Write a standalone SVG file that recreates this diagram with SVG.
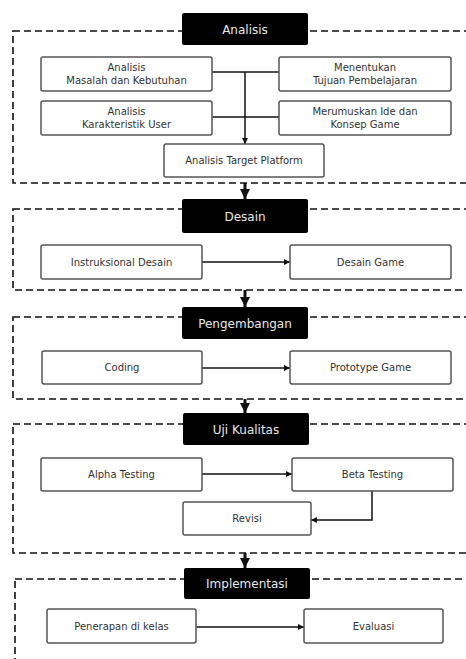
<svg xmlns="http://www.w3.org/2000/svg" width="466" height="659" viewBox="0 0 466 659">
<defs>
<style>
.frame{fill:none;stroke:#111;stroke-width:1.6;stroke-dasharray:7,4}
.hdr{fill:#000}
.ht{fill:#e8e8e8;font-family:"DejaVu Sans",sans-serif;font-size:12px;text-anchor:middle}
.box{fill:#fff;stroke:#555;stroke-width:1.5}
.bt{fill:#333;font-family:"DejaVu Sans",sans-serif;font-size:10px;text-anchor:middle}
.ln{fill:none;stroke:#111;stroke-width:1.5}
.thick{fill:none;stroke:#111;stroke-width:3}
</style>
<marker id="ah" viewBox="0 0 10 10" refX="10" refY="5" markerWidth="6" markerHeight="6" markerUnits="userSpaceOnUse" orient="auto"><path d="M0,0 L10,5 L0,10 z" fill="#111"/></marker>
<marker id="ah2" viewBox="0 0 10 10" refX="10" refY="5" markerWidth="3.5" markerHeight="3.5" orient="auto"><path d="M0,0 L10,5 L0,10 z" fill="#111"/></marker>
</defs>
<rect width="466" height="659" fill="#fff"/>

<g id="frames">
<rect class="frame" x="13" y="31" width="470" height="152"/>
<rect class="frame" x="13" y="209" width="470" height="81"/>
<rect class="frame" x="13" y="317" width="470" height="82"/>
<rect class="frame" x="13" y="424" width="470" height="129"/>
<rect class="frame" x="15" y="579" width="470" height="90"/>
</g>

<g id="connectors">
<line class="ln" x1="212" y1="72" x2="279" y2="72"/>
<line class="ln" x1="212" y1="117" x2="279" y2="117"/>
<line class="ln" x1="245" y1="72" x2="245" y2="144" marker-end="url(#ah)"/>
<line class="thick" x1="245" y1="183" x2="245" y2="199" marker-end="url(#ah2)"/>
<line class="ln" x1="202" y1="262" x2="290" y2="262" marker-end="url(#ah)"/>
<line class="thick" x1="245" y1="290" x2="245" y2="307" marker-end="url(#ah2)"/>
<line class="ln" x1="202" y1="368" x2="290" y2="368" marker-end="url(#ah)"/>
<line class="thick" x1="245" y1="399" x2="245" y2="413" marker-end="url(#ah2)"/>
<line class="ln" x1="202" y1="474" x2="292" y2="474" marker-end="url(#ah)"/>
<polyline class="ln" points="372,491 372,520 311,520" marker-end="url(#ah)"/>
<line class="thick" x1="245" y1="553" x2="245" y2="568" marker-end="url(#ah2)"/>
<line class="ln" x1="196" y1="627" x2="304" y2="627" marker-end="url(#ah)"/>
</g>

<g id="h-analisis"><rect class="hdr" x="182" y="13" width="126" height="32" rx="2"/><text class="ht" x="245" y="33.5">Analisis</text></g>
<g id="n-masalah"><rect class="box" x="41" y="57" width="171" height="34" rx="2"/><text class="bt" x="126.5" y="71">Analisis</text><text class="bt" x="126.5" y="83.5">Masalah dan Kebutuhan</text></g>
<g id="n-tujuan"><rect class="box" x="279" y="57" width="172" height="34" rx="2"/><text class="bt" x="365" y="71">Menentukan</text><text class="bt" x="365" y="83.5">Tujuan Pembelajaran</text></g>
<g id="n-user"><rect class="box" x="41" y="101" width="171" height="34" rx="2"/><text class="bt" x="126.5" y="115">Analisis</text><text class="bt" x="126.5" y="127.5">Karakteristik User</text></g>
<g id="n-ide"><rect class="box" x="279" y="101" width="172" height="34" rx="2"/><text class="bt" x="365" y="115">Merumuskan Ide dan</text><text class="bt" x="365" y="127.5">Konsep Game</text></g>
<g id="n-platform"><rect class="box" x="164" y="144" width="160" height="33" rx="2"/><text class="bt" x="244" y="164">Analisis Target Platform</text></g>

<g id="h-desain"><rect class="hdr" x="182" y="199" width="126" height="34" rx="2"/><text class="ht" x="245" y="220.5">Desain</text></g>
<g id="n-instruksional"><rect class="box" x="41" y="245" width="161" height="34" rx="2"/><text class="bt" x="121.5" y="265.5">Instruksional Desain</text></g>
<g id="n-desaingame"><rect class="box" x="290" y="245" width="161" height="34" rx="2"/><text class="bt" x="370.5" y="265.5">Desain Game</text></g>

<g id="h-pengembangan"><rect class="hdr" x="182" y="307" width="126" height="32" rx="2"/><text class="ht" x="245" y="327.5">Pengembangan</text></g>
<g id="n-coding"><rect class="box" x="42" y="351" width="160" height="33" rx="2"/><text class="bt" x="122" y="371">Coding</text></g>
<g id="n-prototype"><rect class="box" x="290" y="351" width="161" height="33" rx="2"/><text class="bt" x="370.5" y="371">Prototype Game</text></g>

<g id="h-uji"><rect class="hdr" x="183" y="413" width="126" height="32" rx="2"/><text class="ht" x="246" y="433.5">Uji Kualitas</text></g>
<g id="n-alpha"><rect class="box" x="41" y="458" width="161" height="33" rx="2"/><text class="bt" x="121.5" y="478">Alpha Testing</text></g>
<g id="n-beta"><rect class="box" x="292" y="458" width="161" height="33" rx="2"/><text class="bt" x="372.5" y="478">Beta Testing</text></g>
<g id="n-revisi"><rect class="box" x="183" y="502" width="128" height="33" rx="2"/><text class="bt" x="247" y="522">Revisi</text></g>

<g id="h-implementasi"><rect class="hdr" x="184" y="568" width="126" height="31" rx="2"/><text class="ht" x="247" y="588">Implementasi</text></g>
<g id="n-penerapan"><rect class="box" x="47" y="609" width="149" height="34" rx="2"/><text class="bt" x="121.5" y="629.5">Penerapan di kelas</text></g>
<g id="n-evaluasi"><rect class="box" x="304" y="609" width="139" height="34" rx="2"/><text class="bt" x="373.5" y="629.5">Evaluasi</text></g>
</svg>
